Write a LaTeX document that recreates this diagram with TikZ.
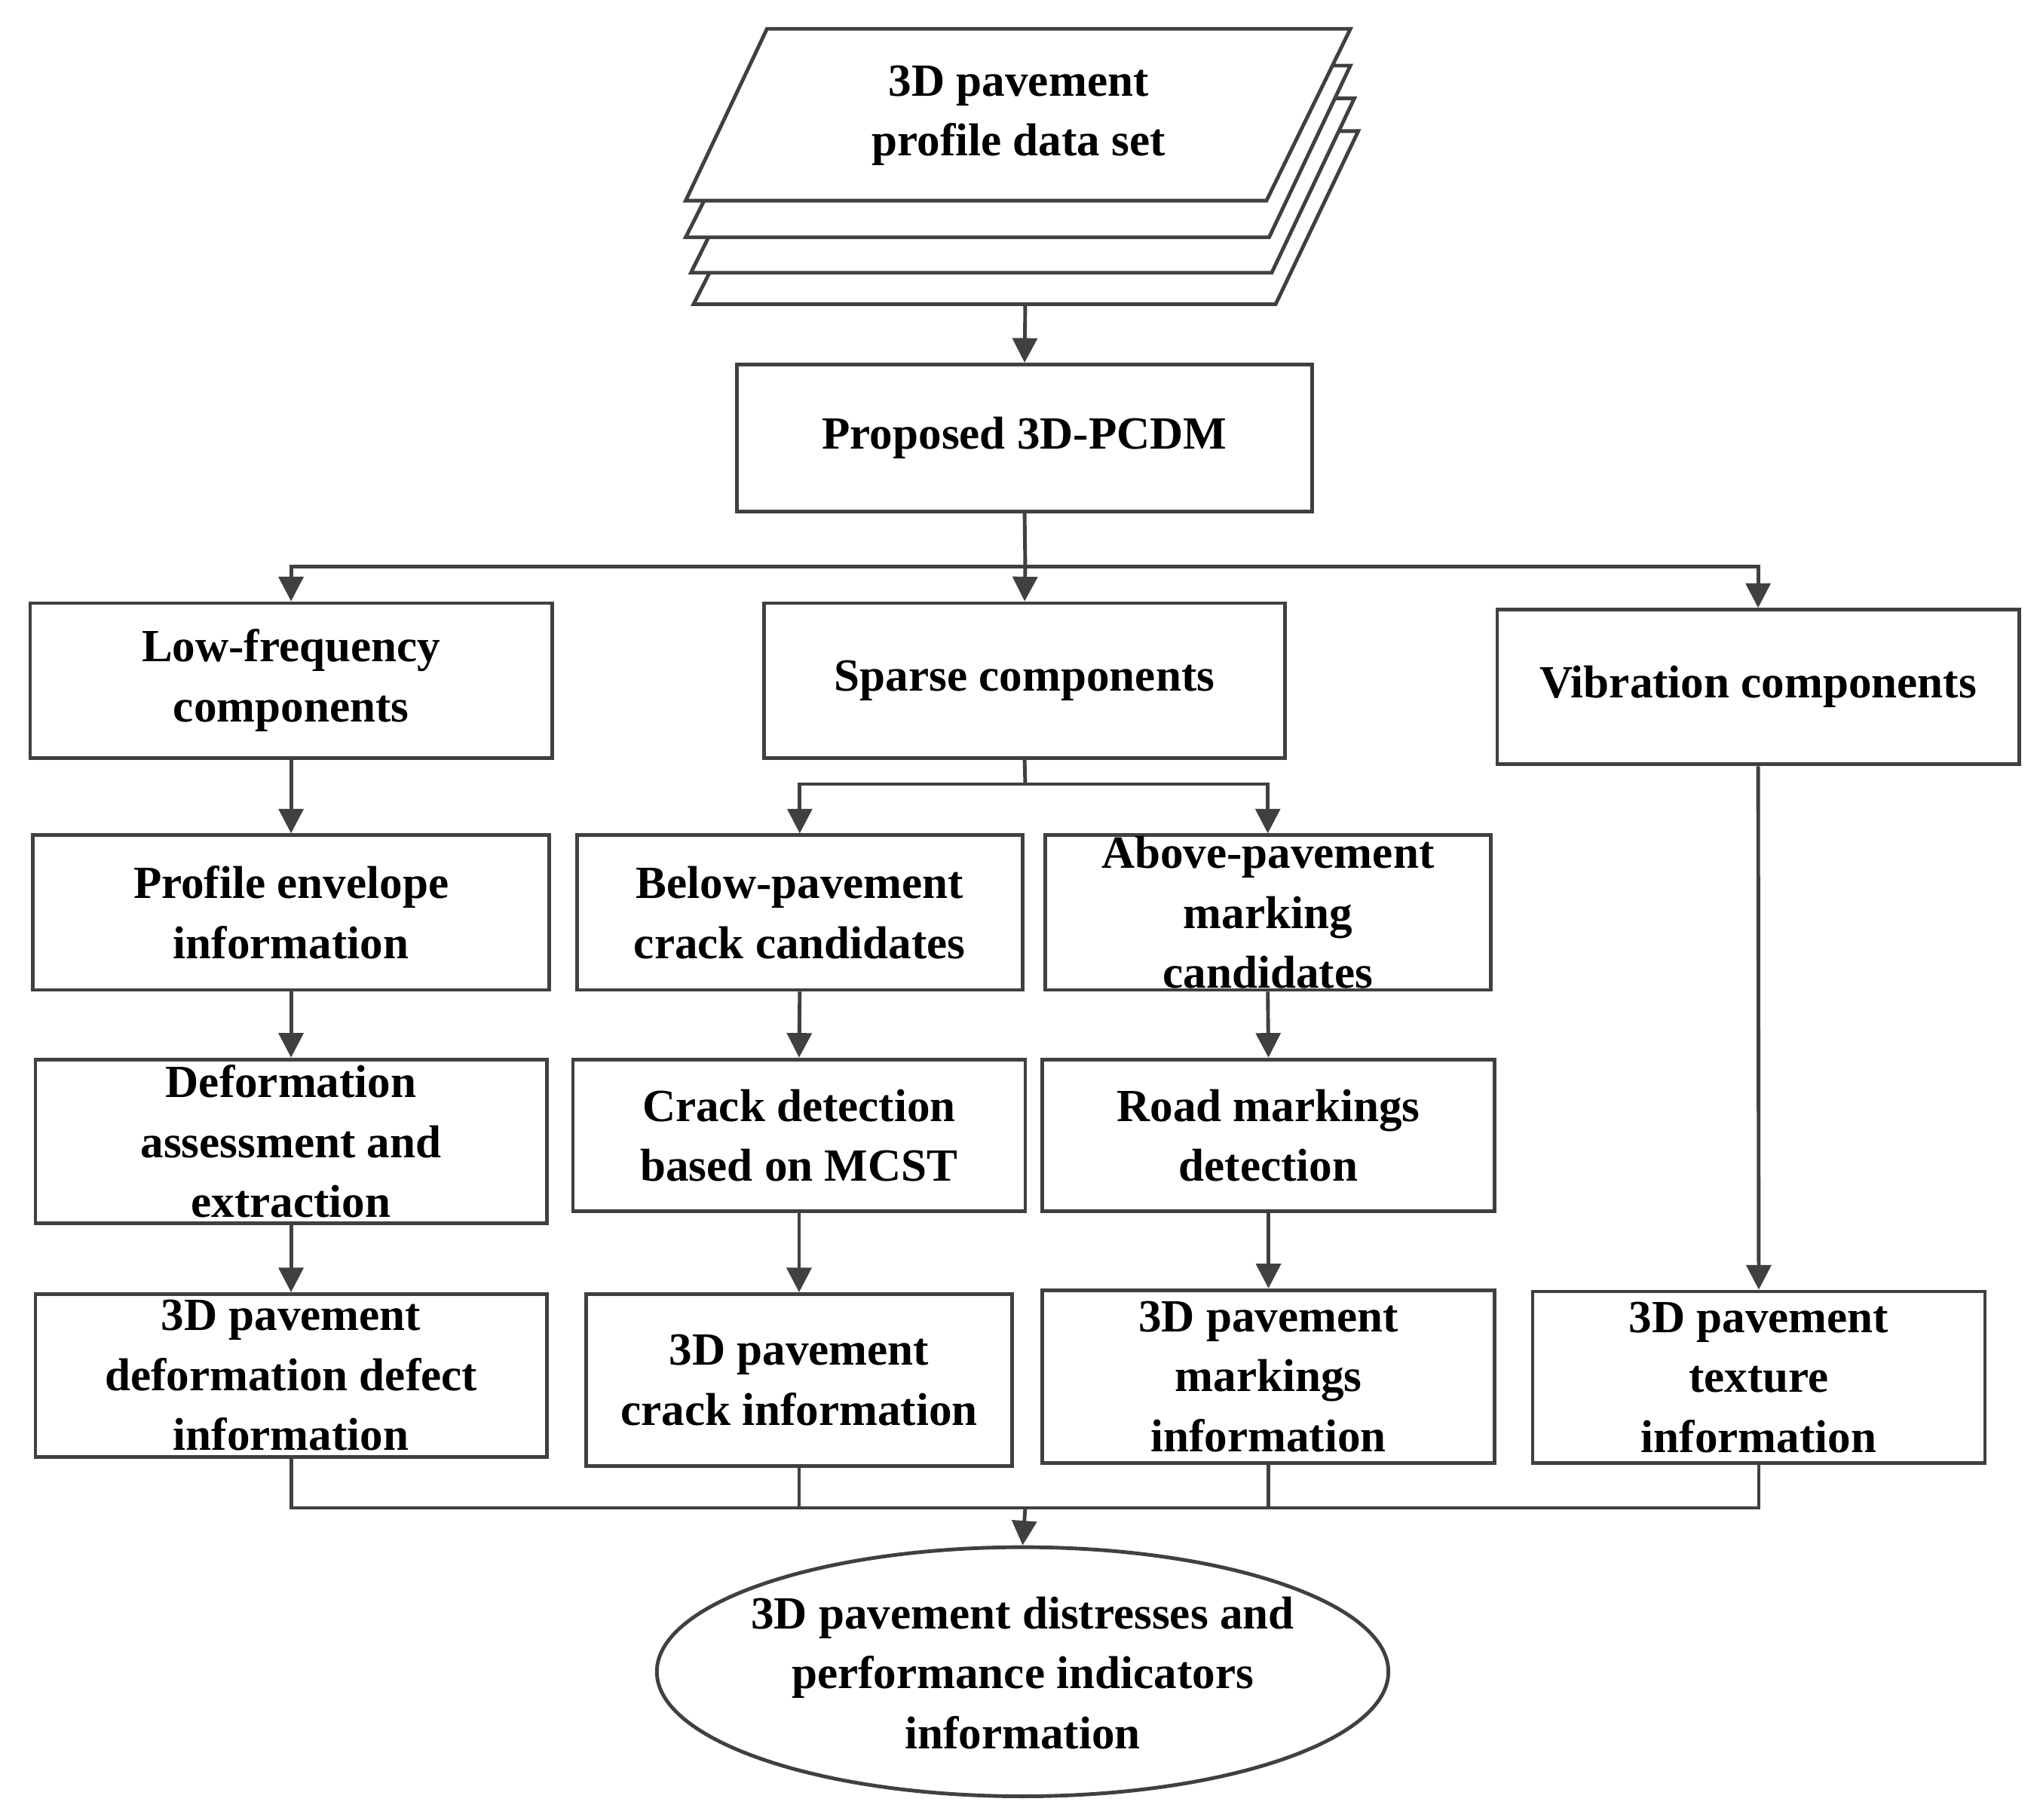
\documentclass[tikz,border=0pt]{standalone}
\usepackage{fontspec}
\setmainfont{Liberation Serif}
\usetikzlibrary{arrows.meta,shapes.geometric}
\definecolor{ln}{HTML}{404040}
\begin{document}
\begin{tikzpicture}[x=0.03cm,y=-0.03cm,
 box/.style={draw=ln,line width=2.4pt,fill=white,align=center,inner sep=0pt,font=\fontsize{30}{39}\selectfont\bfseries},
 arr/.style={draw=ln,line width=2.4pt,-{Triangle[length=16pt,width=16pt]}},
 ln/.style={draw=ln,line width=2.4pt},
 pg/.style={draw=ln,line width=2.4pt,fill=white}]
\useasboundingbox (0,0) rectangle (1556,1388);
\newcommand\bx[5]{\node[box,minimum width=#3*0.03cm,minimum height=#4*0.03cm] (#1) at (#2) {#5};}
% stack
\draw[pg] (596,100)--(1036,100)--(973,232)--(529,232)--cycle;
\draw[pg] (593,75)--(1033,75)--(970,208)--(527,208)--cycle;
\draw[pg] (589,50)--(1030,50)--(968,181)--(523,181)--cycle;
\draw[pg] (585,22)--(1030,22)--(966,153)--(523,153)--cycle;
\node[box,draw=none,fill=none] (data) at (777,88) {3D pavement\\profile data set};
\coordinate (stk) at (782,232);
\bx{prop}{781.5,334}{439}{112}{Proposed 3D-PCDM}
\draw[arr] (stk) -- (prop.north);
\bx{low}{222,519}{398}{118}{Low-frequency\\components}
\bx{sparse}{781.5,519}{397}{118}{Sparse components}
\bx{vib}{1341,524}{398}{118}{Vibration components}
\coordinate (jc) at (782,432);
\draw[ln] (prop.south) -- (jc);
\draw[arr] (jc) -| (low.north);
\draw[arr] (jc) -- (sparse.north);
\draw[arr] (jc) -| (vib.north);
\bx{env}{222,696}{394}{118}{Profile envelope\\information}
\bx{below}{610,696}{340}{118}{Below-pavement\\crack candidates}
\bx{above}{967,696}{340}{118}{Above-pavement\\marking\\candidates}
\draw[arr] (low.south) -- (env.north);
\coordinate (js) at (782,598);
\draw[ln] (sparse.south) -- (js);
\draw[arr] (js) -| (below.north);
\draw[arr] (js) -| (above.north);
\bx{def}{222,870.5}{390}{125}{Deformation\\assessment and\\extraction}
\bx{crack}{609.5,866}{345}{116}{Crack detection\\based on MCST}
\bx{road}{967.5,866}{345}{116}{Road markings\\detection}
\draw[arr] (env.south) -- (def.north);
\draw[arr] (below.south) -- (crack.north);
\draw[arr] (above.south) -- (road.north);
\bx{dd}{222,1049}{390}{124}{3D pavement\\deformation defect\\information}
\bx{ci}{609.5,1052.5}{325}{131}{3D pavement\\crack information}
\bx{mi}{967.5,1050}{345}{132}{3D pavement\\markings\\information}
\bx{ti}{1341.5,1050.5}{345}{131}{3D pavement\\texture\\information}
\draw[arr] (def.south) -- (dd.north);
\draw[arr] (crack.south) -- (ci.north);
\draw[arr] (road.south) -- (mi.north);
\draw[arr] (vib.south) -- (ti.north);
\node[ellipse,draw=ln,line width=2.4pt,minimum width=558*0.03cm,minimum height=190*0.03cm,inner sep=0pt] (res) at (780,1275) {};
\node[box,draw=none,fill=none] at (780,1276) {3D pavement distresses and\\performance indicators\\information};
\coordinate (jb) at (782,1150);
\draw[ln] (dd.south) |- (jb);
\draw[ln] (ti.south) |- (jb);
\draw[ln] (ci.south) -- (ci.south|-jb);
\draw[ln] (mi.south) -- (mi.south|-jb);
\draw[arr] (jb) -- (res.north);
\end{tikzpicture}
\end{document}
